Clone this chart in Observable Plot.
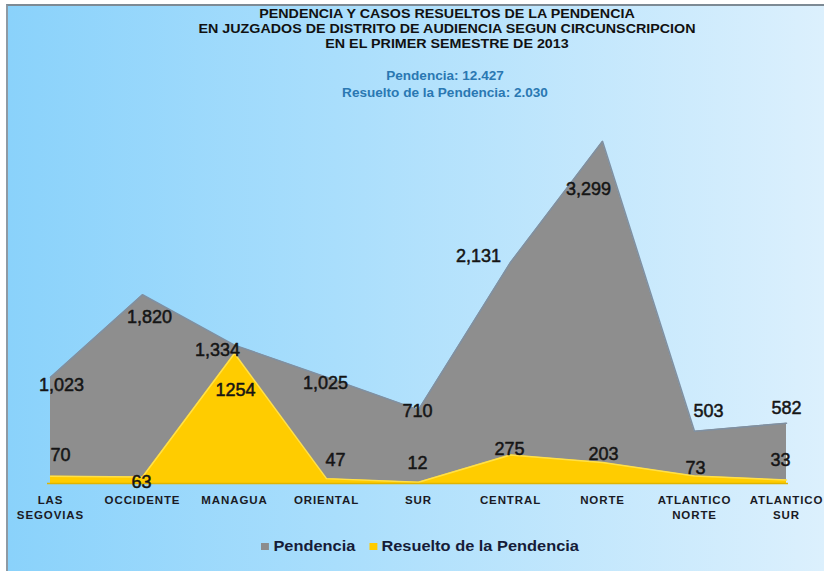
<!DOCTYPE html>
<html>
<head>
<meta charset="utf-8">
<script src="https://cdn.jsdelivr.net/npm/d3@7"></script>
<script src="https://cdn.jsdelivr.net/npm/@observablehq/plot@0.6"></script>
<style>
  html, body { margin: 0; padding: 0; background: #ffffff; }
  #wrap { position: relative; width: 824px; height: 571px; overflow: hidden;
    font-family: "Liberation Sans", Arial, sans-serif; }
  #frame { position: absolute; left: 6px; top: 4px; width: 818px; height: 567px;
    border-top: 2px solid #7d8a94; border-left: 2px solid #8e9aa4;
    background: linear-gradient(to right, #8ad2fb 0%, #a9defc 40%, #dcf0fd 100%); }
  #title { position: absolute; left: 0; width: 894px; top: 7px; text-align: center;
    font-weight: bold; font-size: 12px; line-height: 15px; color: #111;
    transform: scaleX(1.19); transform-origin: 447px 0; }
  #sub { position: absolute; left: 0; width: 890px; top: 68px; text-align: center;
    font-weight: bold; font-size: 12px; line-height: 17px; color: #2a78b2;
    transform: scaleX(1.13); transform-origin: 445px 0; }
  #chart { position: absolute; left: 0; top: 100px; }
  #legend { position: absolute; left: 261px; top: 538px; display: flex; align-items: center;
    font-size: 14.5px; font-weight: bold; color: #161c38;
    transform: scaleX(1.13); transform-origin: 0 0; }
  .sw { display: inline-block; width: 7px; height: 7px; margin-right: 4px; }
</style>
</head>
<body>
<div id="wrap">
  <div id="frame"></div>
  <div id="title">PENDENCIA Y CASOS RESUELTOS DE LA PENDENCIA<br>EN JUZGADOS DE DISTRITO DE AUDIENCIA SEGUN CIRCUNSCRIPCION<br>EN EL PRIMER SEMESTRE DE 2013</div>
  <div id="sub">Pendencia: 12.427<br>Resuelto de la Pendencia: 2.030</div>
  <div id="chart"></div>
  <div id="legend">
    <span class="sw" style="background:#8c8c8c"></span><span>Pendencia</span>
    <span class="sw" style="background:#ffcc00;margin-left:12px"></span><span>Resuelto de la Pendencia</span>
  </div>
</div>
<script>
const categories = ["LAS SEGOVIAS", "OCCIDENTE", "MANAGUA", "ORIENTAL", "SUR", "CENTRAL", "NORTE", "ATLANTICO NORTE", "ATLANTICO SUR"];
const pendencia = [1023, 1820, 1334, 1025, 710, 2131, 3299, 503, 582];
const resuelto = [70, 63, 1254, 47, 12, 275, 203, 73, 33];

// label placement offsets (px), layout only
const pendNudge = [[11, 8], [7, 22], [-17, 5], [-1, 6], [-1, 1], [-32, -6], [-14, 48], [14, -20], [0, -15]];
const resNudge = [[10, -21], [-1, 5], [1, 37], [9, -18], [-1, -19], [-1, -6], [1, -8], [1, -8], [-6, -20]];

const pendData = categories.map((c, i) => ({cat: c, v: pendencia[i]}));
const resData = categories.map((c, i) => ({cat: c, v: resuelto[i]}));
const fmt = d3.format(",");

const labelStyle = {fontSize: 18, fill: "#151515", stroke: "#151515", strokeWidth: 0.5, textAnchor: "middle", lineAnchor: "middle"};
const labelMarks = [];
pendData.forEach((d, i) => labelMarks.push(Plot.text([d], {x: "cat", y: "v", text: (d) => fmt(d.v),
  dx: pendNudge[i][0], dy: pendNudge[i][1], ...labelStyle})));
resData.forEach((d, i) => labelMarks.push(Plot.text([d], {x: "cat", y: "v", text: (d) => String(d.v),
  dx: resNudge[i][0], dy: resNudge[i][1], ...labelStyle})));

const chart = Plot.plot({
  width: 824,
  height: 432,
  marginLeft: 47,
  marginRight: 36,
  marginTop: 20,
  marginBottom: 49,
  style: {background: "transparent", fontFamily: "'Liberation Sans', Arial, sans-serif", overflow: "visible"},
  x: {type: "point", domain: categories, padding: 0, label: null},
  y: {domain: [0, 3500], axis: null},
  marks: [
    Plot.areaY(pendData, {x: "cat", y: "v", fill: "#8e8e8e"}),
    Plot.lineY(pendData, {x: "cat", y: "v", stroke: "#7f90a2", strokeWidth: 1.5}),
    Plot.areaY(resData, {x: "cat", y: "v", fill: "#ffcc00"}),
    Plot.lineY(resData, {x: "cat", y: "v", stroke: "#ffe04a", strokeWidth: 1.5}),
    Plot.ruleY([0], {stroke: "#e0b400", strokeWidth: 1.5}),
    Plot.axisX({tickSize: 4, tickPadding: 6, fontSize: 11.5, fontWeight: "bold", fill: "#1a1a24", stroke: null,
      lineHeight: 1.3, tickFormat: (d) => d.replace(" ", "\n"), label: null}),
    ...labelMarks
  ]
});
chart.querySelectorAll("[aria-label='x-axis tick label'] text").forEach(t => t.style.letterSpacing = "0.9px");
document.getElementById("chart").appendChild(chart);
</script>
</body>
</html>
